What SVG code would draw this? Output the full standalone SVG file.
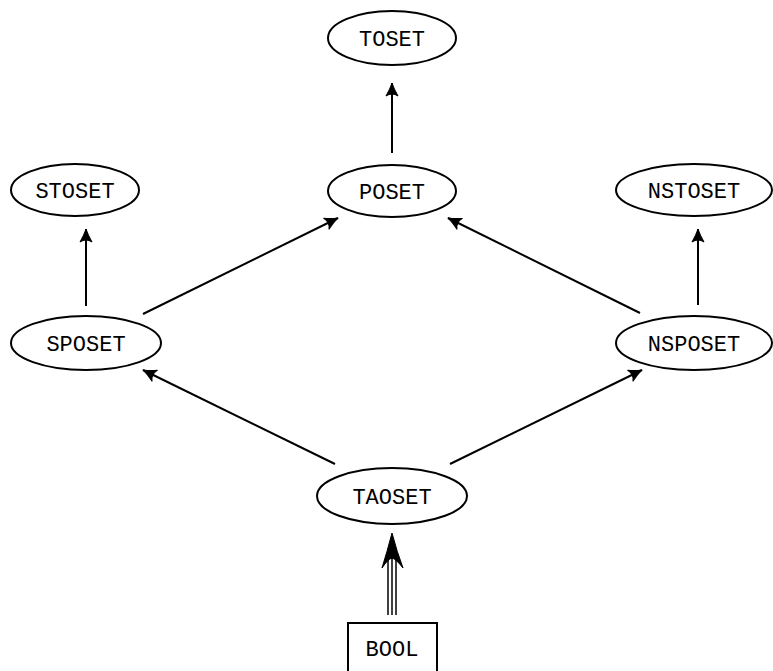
<svg xmlns="http://www.w3.org/2000/svg" width="773" height="671" viewBox="0 0 773 671">
<style>
.n ellipse, .n rect { fill: #fff; stroke: #000; stroke-width: 2; }
.n text { font-family: "Liberation Mono", "DejaVu Sans Mono", monospace; font-size: 22px; text-anchor: middle; fill: #000; }
.e line { stroke: #000; stroke-width: 2; fill: none; }
</style>
<defs>
<marker id="ah" viewBox="-14 -7 15 14" markerWidth="15" markerHeight="14" refX="0" refY="0" orient="auto" markerUnits="userSpaceOnUse">
<path d="M0,0 Q-6,-2 -13,-6 Q-9,0 -13,6 Q-6,2 0,0 Z" fill="#000" stroke="#000" stroke-width="1" stroke-linejoin="round"/>
</marker>
</defs>
<g class="e" id="connectors">
<line x1="392" y1="153" x2="392" y2="83" marker-end="url(#ah)"/>
<line x1="86" y1="306" x2="86" y2="229" marker-end="url(#ah)"/>
<line x1="698" y1="305" x2="698" y2="229" marker-end="url(#ah)"/>
<line x1="143" y1="314" x2="338" y2="218" marker-end="url(#ah)"/>
<line x1="640" y1="313" x2="448" y2="218" marker-end="url(#ah)"/>
<line x1="335" y1="464" x2="143" y2="370" marker-end="url(#ah)"/>
<line x1="450" y1="464" x2="642" y2="370" marker-end="url(#ah)"/>
<g id="bool-taoset">
<line x1="388" y1="615" x2="388" y2="556" style="stroke-width:1.5"/>
<line x1="392" y1="615" x2="392" y2="556" style="stroke-width:1.5"/>
<line x1="396" y1="615" x2="396" y2="556" style="stroke-width:1.5"/>
<path d="M392,533 Q387,552 382,568 Q388,559 392,558 Q396,559 403,568 Q397,552 392,533 Z" fill="#000" stroke="#000" stroke-width="1"/>
</g>
</g>
<g class="n" id="TOSET"><ellipse cx="392" cy="38" rx="64" ry="27"/><text x="392" y="46">TOSET</text></g>
<g class="n" id="POSET"><ellipse cx="392" cy="191" rx="64" ry="26"/><text x="392" y="199">POSET</text></g>
<g class="n" id="STOSET"><ellipse cx="75" cy="190" rx="64" ry="26"/><text x="75" y="198">STOSET</text></g>
<g class="n" id="NSTOSET"><ellipse cx="694" cy="190" rx="78" ry="26"/><text x="694" y="198">NSTOSET</text></g>
<g class="n" id="SPOSET"><ellipse cx="86" cy="343" rx="75" ry="27"/><text x="86" y="351">SPOSET</text></g>
<g class="n" id="NSPOSET"><ellipse cx="694" cy="343" rx="78" ry="27"/><text x="694" y="351">NSPOSET</text></g>
<g class="n" id="TAOSET"><ellipse cx="392" cy="496" rx="75" ry="28"/><text x="392" y="504">TAOSET</text></g>
<g class="n" id="BOOL"><rect x="348" y="623" width="89" height="50"/><text x="392" y="656">BOOL</text></g>
</svg>
